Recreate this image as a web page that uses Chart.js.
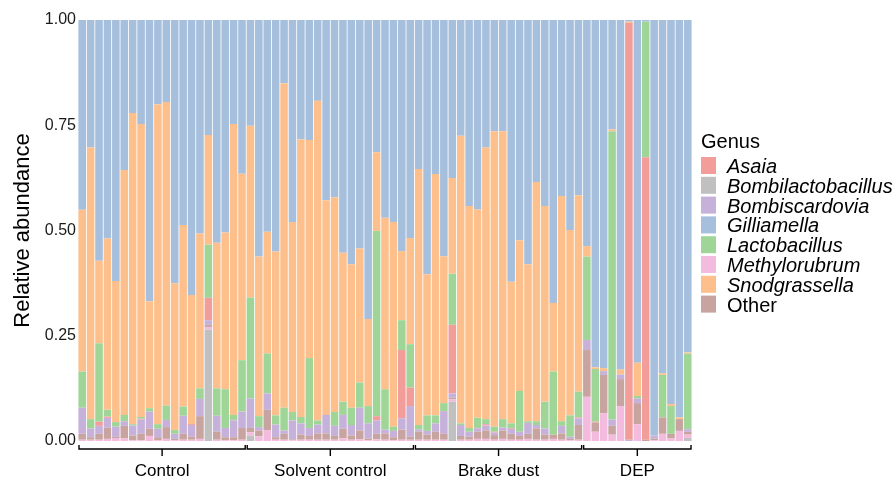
<!DOCTYPE html>
<html>
<head>
<meta charset="utf-8">
<script src="https://cdn.jsdelivr.net/npm/chart.js@4.4.1/dist/chart.umd.min.js"></script>
<style>
  body { margin: 0; background: #fff; }
  #wrap { width: 894px; height: 479px; }
</style>
</head>
<body>
<div id="wrap"><canvas id="abundanceChart" width="894" height="479"></canvas></div>
<script>
// sample groups, in plotting order
const groups = ['Control', 'Solvent control', 'Brake dust', 'DEP'];
const groupSizes = [20, 20, 20, 13];

const yTicks = [0, 0.25, 0.5, 0.75, 1];

// relative abundance per genus, one value per sample
const bombilactobacillus = [
  0, 0, 0, 0, 0, 0, 0, 0, 0, 0, 0, 0, 0, 0, 0, .265, 0, 0, 0, 0,
  .013, 0, 0, 0, 0, 0, 0, 0, 0, 0, 0, 0, 0, 0, 0, 0, 0, 0, 0, 0,
  0, 0, 0, 0, .093, 0, 0, 0, 0, 0, 0, 0, 0, 0, 0, 0, 0, 0, 0, 0,
  0, 0, 0, 0, 0, 0, 0, 0, 0, 0, 0, 0, .007
];
const methylorubrum = [
  .003, .003, .003, .005, .007, .006, .002, .002, .012, .002, .005, .002, .003, .003, .005, .006, .003, .002, .002, .003,
  .008, .011, .026, .003, .003, .002, .003, .003, .003, .003, .003, .006, .003, .004, .002, .004, .003, .002, .003, .003,
  .003, .003, .003, .003, .006, .003, .003, .005, .005, .003, .005, .003, .003, .005, .003, .003, .005, .003, .002, .003,
  .105, .022, .066, .015, .082, 0, .040, 0, .002, .017, .006, .024, .008
];
const other = [
  .014, .006, .014, .027, .003, .030, .011, .015, .017, .007, .028, .003, .014, .007, .054, .005, .019, .007, .007, .028,
  .010, .014, .048, .006, .014, .002, .012, .009, .015, .015, .009, .023, .010, .021, .004, .013, .015, .007, .024, .007,
  .019, .012, .019, .014, .004, .009, .007, .017, .020, .011, .020, .014, .009, .012, .027, .012, .010, .015, .003, .035,
  .111, .022, .091, .021, .065, 0, .050, .003, .004, .039, .011, .028, .007
];
const bombiscardovia = [
  .062, .021, .019, .023, .024, .011, .024, .034, .041, .020, .017, .012, .043, .028, .041, .011, .038, .022, .040, .039,
  .070, .008, .039, .030, .008, .045, .027, .019, .021, .044, .024, .033, .025, .054, .036, .032, .009, .015, .027, .073,
  .005, .009, .020, .054, .010, .026, .012, .008, .012, .006, .007, .012, .010, .026, .008, .015, 0, .018, .005, .016,
  .024, 0, .009, .015, .011, .003, .011, 0, .007, 0, 0, 0, .006
];
const asaia = [
  0, 0, .010, .003, 0, 0, 0, .002, 0, 0, 0, 0, 0, .002, 0, .053, 0, 0, .001, 0,
  0, 0, 0, 0, 0, 0, 0, 0, 0, 0, 0, 0, 0, 0, 0, .010, 0, 0, .162, .044,
  0, 0, 0, 0, .163, 0, 0, .001, .003, .002, 0, .002, 0, 0, 0, 0, 0, 0, 0, .002,
  0, .002, 0, 0, 0, .990, 0, .671, 0, 0, 0, 0, 0
];
const lactobacillus = [
  .086, .022, .186, .016, .011, .015, .003, .004, .008, .011, .034, .009, .022, 0, .025, .126, .065, .092, .012, .122,
  .240, .026, .095, .022, .054, .020, .015, .166, .010, 0, .033, .031, .041, .060, .041, .440, .096, .010, .071, .103,
  .011, .037, .019, .019, .121, .004, .009, .024, .012, .012, .020, .011, .097, .004, .009, .063, .150, .011, .051, .061,
  .198, .125, 0, .685, 0, 0, .006, .322, 0, .101, .066, 0, .179
];
const snodgrassella = [
  .384, .645, .196, .407, .335, .582, .739, .696, .254, .760, .721, .349, .431, .307, .368, .261, .346, .372, .691, .443,
  .408, .379, .289, .389, .771, .451, .660, .518, .759, .510, .510, .354, .341, .318, .207, .187, .407, .486, .164, .252,
  .608, .335, .573, .349, .228, .683, .527, .495, .645, .702, .684, .336, .358, .373, .568, .465, .163, .535, .440, .467,
  .025, .004, .007, .004, .012, .003, .079, 0, 0, .004, .005, .004, .003
];
const gilliamella = [
  .451, .303, .572, .519, .620, .356, .221, .247, .668, .200, .195, .625, .487, .653, .507, .273, .529, .505, .247, .365,
  .251, .562, .503, .550, .150, .480, .283, .285, .192, .428, .421, .553, .580, .543, .710, .314, .470, .480, .549, .518,
  .354, .604, .366, .561, .375, .275, .442, .450, .303, .264, .264, .622, .523, .580, .385, .442, .672, .418, .499, .416,
  .537, .825, .827, .260, .830, .004, .814, .004, .987, .839, .912, .944, .790
];

const colors = {
  Asaia: '#F29D9A',
  Bombilactobacillus: '#C0C0C0',
  Bombiscardovia: '#C6B1DA',
  Gilliamella: '#A5BFDD',
  Lactobacillus: '#A0D598',
  Methylorubrum: '#F3BBDD',
  Snodgrassella: '#FDC08C',
  Other: '#C8A4A0'
};

// legend order (alphabetical, Other last)
const legendOrder = ['Asaia', 'Bombilactobacillus', 'Bombiscardovia', 'Gilliamella',
  'Lactobacillus', 'Methylorubrum', 'Snodgrassella', 'Other'];

// stacking order, bottom to top
const stack = [
  ['Bombilactobacillus', bombilactobacillus],
  ['Methylorubrum', methylorubrum],
  ['Other', other],
  ['Bombiscardovia', bombiscardovia],
  ['Asaia', asaia],
  ['Lactobacillus', lactobacillus],
  ['Snodgrassella', snodgrassella],
  ['Gilliamella', gilliamella]
];

// one category per sample, tagged with its group
const samples = [];
groups.forEach((g, gi) => {
  for (let i = 1; i <= groupSizes[gi]; i++) samples.push(g + ' ' + i);
});

const FONT = '"Liberation Sans", Arial, sans-serif';

// brackets + group names under the bars
const groupAxis = {
  id: 'groupAxis',
  afterDraw(chart) {
    const ctx = chart.ctx;
    const xs = chart.scales.x;
    const half = xs.width / samples.length / 2;
    const y = chart.chartArea.bottom + 8;
    ctx.save();
    ctx.strokeStyle = '#000';
    ctx.lineWidth = 1.4;
    ctx.fillStyle = '#000';
    ctx.font = '17px ' + FONT;
    ctx.textAlign = 'center';
    ctx.textBaseline = 'middle';
    let start = 0;
    groups.forEach((g, gi) => {
      const end = start + groupSizes[gi] - 1;
      const x0 = xs.getPixelForValue(start) - half + 1;
      const x1 = xs.getPixelForValue(end) + half - 1;
      const mid = (x0 + x1) / 2;
      ctx.beginPath();
      ctx.moveTo(x0, y - 4);
      ctx.lineTo(x0, y);
      ctx.lineTo(x1, y);
      ctx.lineTo(x1, y - 4);
      ctx.moveTo(mid, y);
      ctx.lineTo(mid, y + 7);
      ctx.stroke();
      ctx.fillText(g, mid, y + 22);
      start = end + 1;
    });
    ctx.restore();
  }
};

// legend with italic genus names
const genusLegend = {
  id: 'genusLegend',
  afterDraw(chart) {
    const ctx = chart.ctx;
    const x = chart.chartArea.right + 9;
    ctx.save();
    ctx.textBaseline = 'alphabetic';
    ctx.textAlign = 'left';
    ctx.fillStyle = '#000';
    ctx.font = '20px ' + FONT;
    ctx.fillText('Genus', x, 148);
    legendOrder.forEach((name, i) => {
      const top = 157 + i * 19.8;
      ctx.fillStyle = colors[name];
      ctx.fillRect(x, top, 15, 17);
      ctx.fillStyle = '#000';
      ctx.font = (name === 'Other' ? '' : 'italic ') + '20px ' + FONT;
      ctx.fillText(name, x + 26, top + 16);
    });
    ctx.restore();
  }
};

const ctx = document.getElementById('abundanceChart').getContext('2d');
new Chart(ctx, {
  type: 'bar',
  data: {
    labels: samples,
    datasets: stack.map(([name, values]) => ({
      label: name,
      data: values,
      backgroundColor: colors[name],
      borderWidth: 0,
      barPercentage: 0.9,
      categoryPercentage: 1
    }))
  },
  options: {
    responsive: false,
    animation: false,
    devicePixelRatio: 1,
    layout: { padding: { top: 20, right: 202, left: 0, bottom: 0 } },
    plugins: {
      legend: { display: false },
      tooltip: { enabled: false }
    },
    scales: {
      x: {
        stacked: true,
        grid: { display: false },
        border: { display: false },
        ticks: { display: false },
        afterFit: s => { s.height = 38; }
      },
      y: {
        stacked: true,
        min: 0,
        max: 1,
        afterBuildTicks: s => { s.ticks = yTicks.map(v => ({ value: v })); },
        ticks: {
          callback: v => v.toFixed(2),
          color: '#1a1a1a',
          font: { family: FONT, size: 16 },
          padding: 2
        },
        grid: { display: false, drawTicks: false },
        border: { display: false },
        title: {
          display: true,
          text: 'Relative abundance',
          color: '#000',
          font: { family: FONT, size: 22 },
          padding: { top: 10, bottom: 0 }
        },
        afterFit: s => { s.width = 78; }
      }
    }
  },
  plugins: [groupAxis, genusLegend]
});
</script>
</body>
</html>
